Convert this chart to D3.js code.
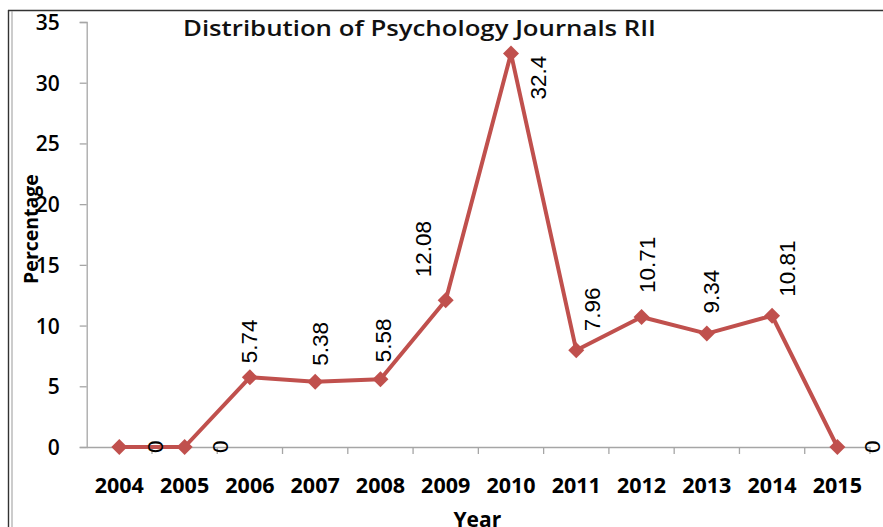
<!DOCTYPE html>
<html>
<head>
<meta charset="utf-8">
<script src="https://cdn.jsdelivr.net/npm/d3@7/dist/d3.min.js"></script>
<style>
  html, body { margin: 0; padding: 0; background: #fff; }
  svg { display: block; }
</style>
</head>
<body>
<svg id="chart" width="883" height="527"></svg>
<script>
// ---- data ----
const years = ["2004","2005","2006","2007","2008","2009","2010","2011","2012","2013","2014","2015"];
const percentages = [0, 0, 5.74, 5.38, 5.58, 12.08, 32.4, 7.96, 10.71, 9.34, 10.81, 0];
const labelTexts = ["0","0","5.74","5.38","5.58","12.08","32.4","7.96","10.71","9.34","10.81","0"];
const yTicks = [0, 5, 10, 15, 20, 25, 30, 35];
const titleText = "Distribution of Psychology Journals  RII";
const xTitle = "Year";
const yTitle = "Percentage";

// ---- layout ----
const W = 883, H = 527;
const plot = { left: 86.7, right: 870, top: 22, bottom: 447 };
const color = "#C0504D";
const axisColor = "#a6a6a6";

const svg = d3.select("#chart");

// frame
svg.append("line").attr("x1", 8).attr("x2", W).attr("y1", 10.5).attr("y2", 10.5)
  .attr("stroke", "#333").attr("stroke-width", 1.6);
svg.append("line").attr("x1", 8.5).attr("x2", 8.5).attr("y1", 10).attr("y2", H)
  .attr("stroke", "#333").attr("stroke-width", 1.4);
svg.append("line").attr("x1", 12).attr("x2", 12).attr("y1", 11).attr("y2", H)
  .attr("stroke", "#999").attr("stroke-width", 1);

const x = d3.scaleBand().domain(years).range([plot.left, plot.right]).padding(0);
const y = d3.scaleLinear().domain([0, 35]).range([plot.bottom, plot.top]);
const cx = d => x(d) + x.bandwidth() / 2;

// y axis
const yAxis = svg.append("g").attr("transform", `translate(${plot.left},0)`)
  .call(d3.axisLeft(y).tickValues(yTicks).tickSize(7).tickPadding(20).tickFormat(d3.format("d")));
yAxis.select(".domain").attr("stroke", axisColor).attr("stroke-width", 1.3);
yAxis.selectAll(".tick line").attr("stroke", axisColor).attr("stroke-width", 1.3);
yAxis.selectAll(".tick text")
  .attr("font-family", "'Open Sans', sans-serif").attr("font-size", 21)
  .attr("font-weight", 600)
  .attr("fill", "#000").attr("dy", "0.36em");

// x axis line with ticks at band boundaries
const xAxis = svg.append("g").attr("transform", `translate(0,${plot.bottom})`)
  .call(d3.axisBottom(x).tickSize(0).tickPadding(0));
xAxis.select(".domain").attr("stroke", axisColor).attr("stroke-width", 1.3);
xAxis.selectAll(".tick text")
  .attr("font-family", "'Open Sans', sans-serif").attr("font-weight", "bold")
  .attr("font-size", 21.5).attr("fill", "#000")
  .attr("dy", null).attr("y", 46);
const bounds = years.map(d => x(d)).concat([plot.right]);
svg.append("g").selectAll("line").data(bounds.slice(1)).join("line")
  .attr("x1", d => d).attr("x2", d => d)
  .attr("y1", plot.bottom).attr("y2", plot.bottom + 7)
  .attr("stroke", axisColor).attr("stroke-width", 1.3);

// line
const pts = years.map((d, i) => ({ year: d, v: percentages[i], label: labelTexts[i] }));
svg.append("path").datum(pts)
  .attr("d", d3.line().x(d => cx(d.year)).y(d => y(d.v)))
  .attr("fill", "none").attr("stroke", color).attr("stroke-width", 4)
  .attr("stroke-linejoin", "round");

// markers (diamonds)
const r = 8;
svg.append("g").selectAll("path").data(pts).join("path")
  .attr("d", `M0,${-r}L${r},0L0,${r}L${-r},0Z`)
  .attr("transform", d => `translate(${cx(d.year)},${y(d.v)})`)
  .attr("fill", color);

// labels (rotated, reading upward)
const labelNudge = {
  "2004": [36, 6], "2005": [36, 6], "2015": [35, 6],
  "2006": [0, -14], "2007": [5, -16], "2008": [3, -17], "2009": [-22, -23],
  "2010": [28, 46], "2011": [16, -19], "2012": [6, -24], "2013": [5, -20], "2014": [15, -19]
};
svg.append("g").selectAll("text").data(pts).join("text")
  .attr("transform", d => {
    const n = labelNudge[d.year];
    return `translate(${cx(d.year) + n[0]},${y(d.v) + n[1]}) rotate(-90)`;
  })
  .attr("text-anchor", "start")
  .attr("dominant-baseline", "central")
  .attr("font-family", "'Liberation Sans', Arial, sans-serif")
  .attr("font-size", 22.5).attr("fill", "#000")
  .text(d => d.label);

// titles
svg.append("text").attr("x", 183).attr("y", 36)
  .attr("font-family", "'Open Sans', sans-serif").attr("font-weight", 600)
  .attr("font-size", 21).attr("fill", "#111")
  .attr("textLength", 473).attr("lengthAdjust", "spacingAndGlyphs")
  .text(titleText);

svg.append("text").attr("x", (plot.left + plot.right) / 2 - 1).attr("y", 527)
  .attr("text-anchor", "middle")
  .attr("font-family", "'Open Sans', sans-serif").attr("font-weight", "bold")
  .attr("font-size", 21).attr("fill", "#000")
  .text(xTitle);

svg.append("text")
  .attr("transform", `translate(38,229) rotate(-90)`)
  .attr("text-anchor", "middle")
  .attr("font-family", "'Open Sans', sans-serif").attr("font-weight", "bold")
  .attr("font-size", 19.5).attr("fill", "#000")
  .text(yTitle);
</script>
</body>
</html>
